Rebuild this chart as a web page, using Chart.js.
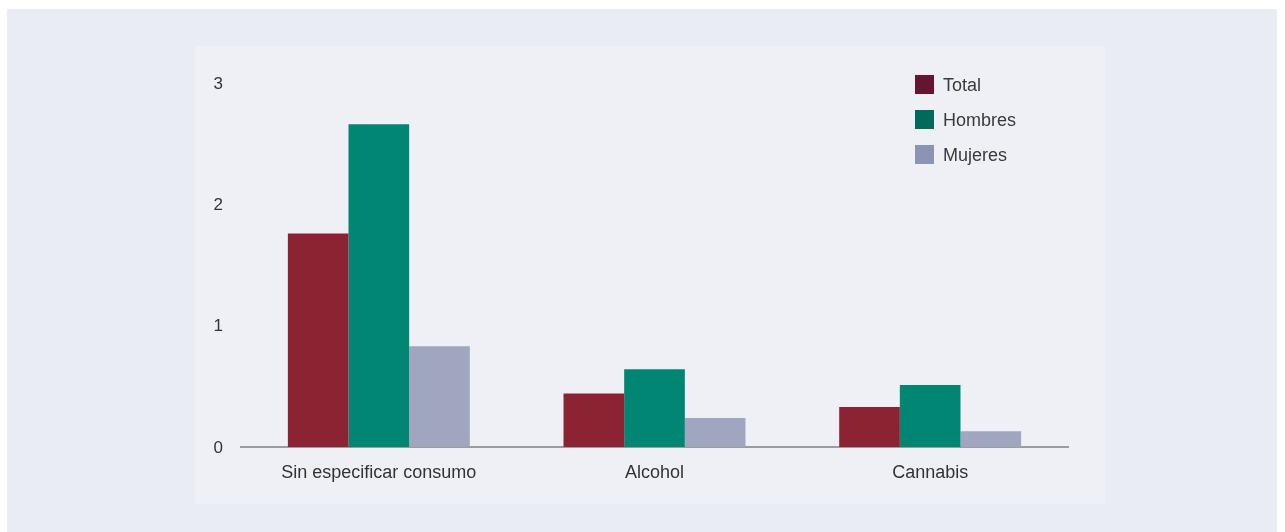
<!DOCTYPE html>
<html>
<head>
<meta charset="utf-8">
<script src="https://cdn.jsdelivr.net/npm/chart.js@4"></script>
<style>
  html, body { margin: 0; padding: 0; background: #ffffff; }
  body { width: 1285px; height: 532px; position: relative; overflow: hidden; }
  #outer { position: absolute; left: 7px; top: 9px; width: 1270px; height: 523px; background: #e9ecf3; }
  #panel { position: absolute; left: 195px; top: 46px; width: 910px; height: 458px; background: #eef0f5; }
  #wrap { position: absolute; left: 0; top: 0; width: 1285px; height: 532px; }
</style>
</head>
<body>
<div id="outer"></div>
<div id="panel"></div>
<div id="wrap"><canvas id="barChart" width="1285" height="532"></canvas></div>
<script>
const categories = ["Sin especificar consumo", "Alcohol", "Cannabis"];
const seriesNames = ["Total", "Hombres", "Mujeres"];
const totalValues = [1.76, 0.44, 0.33];
const hombresValues = [2.66, 0.64, 0.51];
const mujeresValues = [0.83, 0.24, 0.13];
const barColors = ["#8b2332", "#008673", "#a0a6c0"];
const legendColors = ["#65152f", "#006b5a", "#8a95b5"];

const fontFamily = "'Liberation Sans', Arial, Helvetica, sans-serif";

// legend drawn inside the plot, top right
const insideLegend = {
    id: "insideLegend",
    afterDraw(chart) {
        const c = chart.ctx;
        c.save();
        c.font = "18px " + fontFamily;
        c.textBaseline = "middle";
        c.textAlign = "left";
        chart.data.datasets.forEach((ds, i) => {
            const y = 75 + i * 35;
            c.fillStyle = legendColors[i];
            c.fillRect(915, y, 19, 19);
            c.fillStyle = "#3a3a3a";
            c.fillText(ds.label, 943, y + 11);
        });
        c.restore();
    }
};

const ctx = document.getElementById("barChart").getContext("2d");

const chart = new Chart(ctx, {
    type: "bar",
    data: {
        labels: categories,
        datasets: [
            { label: seriesNames[0], data: totalValues, backgroundColor: barColors[0] },
            { label: seriesNames[1], data: hombresValues, backgroundColor: barColors[1] },
            { label: seriesNames[2], data: mujeresValues, backgroundColor: barColors[2] }
        ]
    },
    options: {
        responsive: false,
        animation: false,
        layout: { padding: { left: 195, right: 217, top: 83, bottom: 35 } },
        datasets: {
            bar: { categoryPercentage: 0.66, barPercentage: 1.0, borderWidth: 0 }
        },
        scales: {
            x: {
                grid: { display: false, drawTicks: false },
                border: { display: true, color: "#9c9c9c", width: 2 },
                ticks: { color: "#333333", padding: 15, font: { size: 18, family: fontFamily } },
                afterFit(scale) { scale.height = 50; }
            },
            y: {
                min: 0,
                max: 3,
                grid: { display: false, drawTicks: false },
                border: { display: false },
                ticks: { stepSize: 1, color: "#333333", padding: 18, labelOffset: 1, font: { size: 17, family: fontFamily } },
                afterFit(scale) { scale.width = 46; }
            }
        },
        plugins: {
            legend: { display: false },
            tooltip: { enabled: false }
        }
    },
    plugins: [insideLegend]
});
</script>
</body>
</html>
